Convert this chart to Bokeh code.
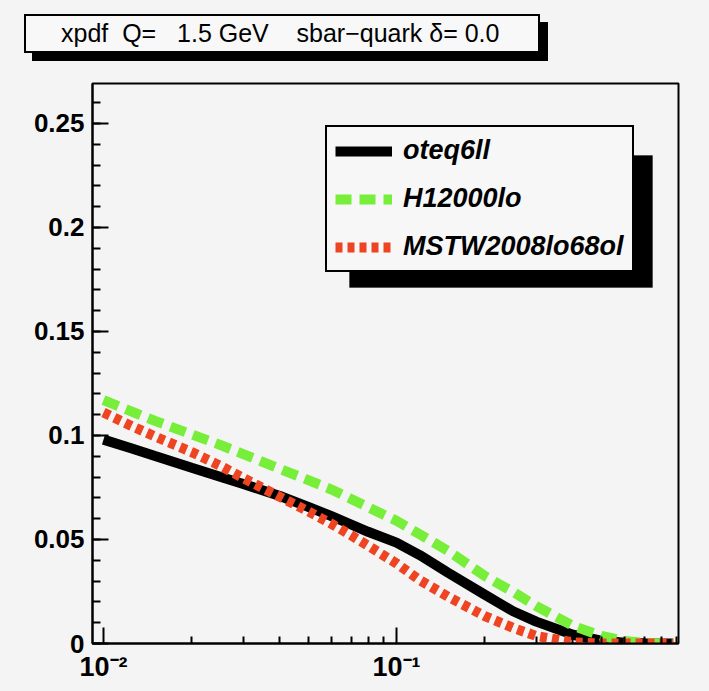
import numpy as np
from bokeh.plotting import figure
from bokeh.layouts import column
from bokeh.models import (FixedTicker, NumeralTickFormatter, Legend, LegendItem,
                          BoxAnnotation, Range1d, Div)
from bokeh.embed import file_html
from bokeh.resources import INLINE

# ---- data ----
x_vals = [0.01, 0.0125, 0.015, 0.02, 0.025, 0.03, 0.04, 0.05, 0.06, 0.07, 0.08,
          0.1, 0.12, 0.15, 0.2, 0.25, 0.3, 0.4, 0.5, 0.6, 0.7, 0.8, 0.88]
cteq6ll = [0.098, 0.0937, 0.0901, 0.0845, 0.0802, 0.0767, 0.0709, 0.0657, 0.0612, 0.0572, 0.0537,
           0.0485, 0.0425, 0.034, 0.0235, 0.0155, 0.0105, 0.0042, 0.0014, 0.0004, 0.0001, 0.0, 0.0]
h12000lo = [0.117, 0.1115, 0.107, 0.1005, 0.0955, 0.091, 0.084, 0.0785, 0.074, 0.0695, 0.0655,
            0.059, 0.0525, 0.0445, 0.0325, 0.0248, 0.018, 0.0085, 0.0037, 0.0012, 0.0003, 0.0, 0.0]
mstw = [0.111, 0.1045, 0.0995, 0.092, 0.0855, 0.0795, 0.0705, 0.0635, 0.0575, 0.052, 0.047,
        0.0385, 0.0305, 0.0225, 0.0132, 0.0075, 0.0036, 0.0006, 0.0, 0.0, 0.0, 0.0, 0.0]
series_names = ["oteq6ll", "H12000lo", "MSTW2008lo68ol"]

x_major = [0.01, 0.1]
x_major_labels = ["10\u207b\u00b2", "10\u207b\u00b9"]
x_minor = [0.02, 0.03, 0.04, 0.05, 0.06, 0.07, 0.08, 0.09,
           0.2, 0.3, 0.4, 0.5, 0.6, 0.7, 0.8, 0.9]
y_major = [0.0, 0.05, 0.1, 0.15, 0.2, 0.25]
y_minor = [round(0.01 * i, 2) for i in range(27)]

title_text = "xpdf  Q=   1.5 GeV    sbar\u2212quark \u03b4= 0.0"

BG = "#f4f4f4"
FONT = "Liberation Sans"
TITLE_H = 70

# ---- title box with shadow ----
title_html = (
    '<div style="display:inline-block; margin:14px 0 0 24px; width:516px; height:39px; '
    'box-sizing:border-box; border:2px solid black; background:#f8f8f8; '
    'box-shadow:8px 8px 0 0 black; padding-left:35px; line-height:35px; '
    'font-family:\'Liberation Sans\'; font-size:25px; color:black; white-space:pre;">'
    + title_text + '</div>'
)
t = Div(text=title_html, width=709, height=TITLE_H, margin=0,
        styles={"background-color": BG, "margin": "0", "padding": "0", "overflow": "hidden"})

# ---- main plot ----
p = figure(width=709, height=691 - TITLE_H, x_axis_type="log",
           x_range=Range1d(10 ** -2.0375, 10 ** -0.0375), y_range=Range1d(0, 0.2692),
           output_backend="svg", toolbar_location=None, title=None,
           min_border_left=92, min_border_right=31, min_border_top=83 - TITLE_H,
           min_border_bottom=48)
p.background_fill_color = BG
p.border_fill_color = BG
p.outline_line_color = "black"
p.outline_line_width = 2
p.grid.visible = False

xa = p.xaxis[0]
ya = p.yaxis[0]
xa.ticker = FixedTicker(ticks=x_major, minor_ticks=x_minor)
xa.major_label_overrides = {v: s for v, s in zip(x_major, x_major_labels)}
ya.ticker = FixedTicker(ticks=y_major, minor_ticks=y_minor)
ya.formatter = NumeralTickFormatter(format="0.[00]")
for ax in (xa, ya):
    ax.axis_line_color = "black"
    ax.axis_line_width = 2
    ax.major_tick_line_color = "black"
    ax.minor_tick_line_color = "black"
    ax.major_tick_line_width = 2
    ax.minor_tick_line_width = 2
    ax.major_tick_in = 16
    ax.major_tick_out = 0
    ax.minor_tick_out = 0
    ax.major_label_text_font = FONT
    ax.major_label_text_font_style = "bold"
    ax.major_label_text_color = "black"
xa.minor_tick_in = 7
ya.minor_tick_in = 8
xa.major_label_text_font_size = "27px"
ya.major_label_text_font_size = "26px"
xa.major_label_standoff = 8
ya.major_label_standoff = 8

r1 = p.line(x_vals, cteq6ll, line_color="black", line_width=10)
r2 = p.line(x_vals, h12000lo, line_color="#77ee3a", line_width=10, line_dash="16 8")
r3 = p.line(x_vals, mstw, line_color="#ee4422", line_width=10, line_dash="7 5")

# legend shadow (screen units relative to the frame)
p.add_layout(BoxAnnotation(left=257, right=560, top=488, bottom=356,
                           left_units="screen", right_units="screen",
                           top_units="screen", bottom_units="screen",
                           fill_color="black", fill_alpha=1, line_color="black"))

legend = Legend(items=[LegendItem(label=series_names[0], renderers=[r1]),
                       LegendItem(label=series_names[1], renderers=[r2]),
                       LegendItem(label=series_names[2], renderers=[r3])],
                location=(233, 371), margin=0, padding=8, spacing=17,
                glyph_width=57, glyph_height=30, label_height=30, label_standoff=11,
                label_text_font=FONT, label_text_font_style="bold italic",
                label_text_font_size="27px", label_text_color="black",
                border_line_color="black", border_line_width=2, border_line_alpha=1,
                background_fill_color="#f7f7f7", background_fill_alpha=1)
p.add_layout(legend)

layout = column(t, p, spacing=0)
layout.styles = {"background-color": BG}
open("out.html", "w").write(file_html(layout, INLINE))
